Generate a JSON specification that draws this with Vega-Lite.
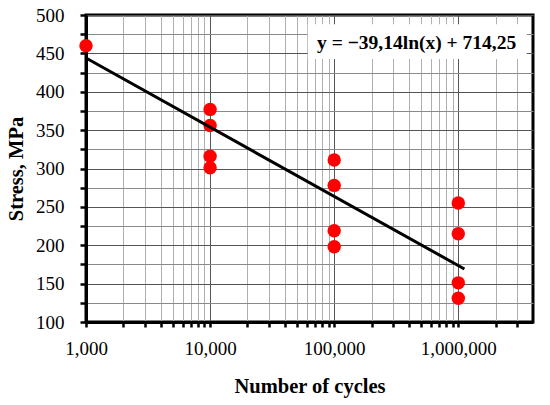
{
  "$schema": "https://vega.github.io/schema/vega-lite/v6.json",
  "width": 447,
  "height": 307,
  "autosize": {"type": "none"},
  "padding": {"left": 86, "top": 15, "right": 17, "bottom": 83},
  "background": "white",
  "config": {
    "view": {"stroke": "black", "strokeWidth": 3},
    "axis": {
      "labelFont": "Liberation Serif",
      "labelFontSize": 19,
      "labelColor": "black",
      "titleFont": "Liberation Serif",
      "titleFontSize": 20.5,
      "titleFontWeight": "bold",
      "titleColor": "black",
      "tickColor": "black",
      "tickWidth": 2.5,
      "domainColor": "black",
      "domainWidth": 3,
      "labelOverlap": false,
      "labelFlush": false,
      "gridWidth": 1
    }
  },
  "datasets": {
    "tests": [
      {"cycles": 1000, "stress": 460},
      {"cycles": 10000, "stress": 377},
      {"cycles": 10000, "stress": 356},
      {"cycles": 10000, "stress": 316},
      {"cycles": 10000, "stress": 301},
      {"cycles": 100000, "stress": 311},
      {"cycles": 100000, "stress": 278},
      {"cycles": 100000, "stress": 219},
      {"cycles": 100000, "stress": 198},
      {"cycles": 1000000, "stress": 255},
      {"cycles": 1000000, "stress": 215},
      {"cycles": 1000000, "stress": 151},
      {"cycles": 1000000, "stress": 131}
    ],
    "fit": [
      {"cycles": 1000, "stress": 443.9},
      {"cycles": 1120000, "stress": 169.1}
    ],
    "note": [
      {"label": "y = −39,14ln(x) + 714,25"}
    ]
  },
  "layer": [
    {
      "data": {"name": "tests"},
      "mark": {"type": "circle", "color": "#ff0000", "size": 180, "opacity": 1},
      "encoding": {
        "x": {
          "field": "cycles",
          "type": "quantitative",
          "title": "Number of cycles",
          "scale": {"type": "log", "domain": [1000, 4000000], "nice": false},
          "axis": {
            "values": [1000, 2000, 3000, 4000, 5000, 6000, 7000, 8000, 9000,
                       10000, 20000, 30000, 40000, 50000, 60000, 70000, 80000, 90000,
                       100000, 200000, 300000, 400000, 500000, 600000, 700000, 800000, 900000,
                       1000000, 2000000, 3000000],
            "tickCount": 30,
            "labelExpr": "indexof([1000,10000,100000,1000000], datum.value) >= 0 ? format(datum.value, ',') : ''",
            "tickSize": 5,
            "labelPadding": 12,
            "titlePadding": 18,
            "gridColor": {
              "condition": {"test": "indexof([1000,10000,100000,1000000], datum.value) >= 0", "value": "#555555"},
              "value": "#b0b0b0"
            }
          }
        },
        "y": {
          "field": "stress",
          "type": "quantitative",
          "title": "Stress, MPa",
          "scale": {"domain": [100, 500], "nice": false, "zero": false},
          "axis": {
            "values": [100, 125, 150, 175, 200, 225, 250, 275, 300, 325, 350, 375, 400, 425, 450, 475, 500],
            "tickCount": 17,
            "labelExpr": "(datum.value % 50) < 1 ? format(datum.value, 'd') : ''",
            "tickSize": 6,
            "labelPadding": 16,
            "titlePadding": 9,
            "gridColor": {
              "condition": {"test": "(datum.value % 50) < 1", "value": "#555555"},
              "value": "#8a8a8a"
            }
          }
        }
      }
    },
    {
      "data": {"name": "fit"},
      "mark": {"type": "line", "color": "black", "strokeWidth": 3},
      "encoding": {
        "x": {"field": "cycles", "type": "quantitative"},
        "y": {"field": "stress", "type": "quantitative"}
      }
    },
    {
      "data": {"name": "note"},
      "mark": {"type": "rect", "fill": "white"},
      "encoding": {
        "x": {"datum": 61200},
        "x2": {"datum": 3560000},
        "y": {"datum": 488},
        "y2": {"datum": 442.7}
      }
    },
    {
      "data": {"name": "note"},
      "mark": {
        "type": "text",
        "font": "Liberation Serif",
        "fontWeight": "bold",
        "fontSize": 19.5,
        "color": "black"
      },
      "encoding": {
        "text": {"field": "label"},
        "x": {"datum": 462000},
        "y": {"datum": 463.5}
      }
    }
  ]
}
